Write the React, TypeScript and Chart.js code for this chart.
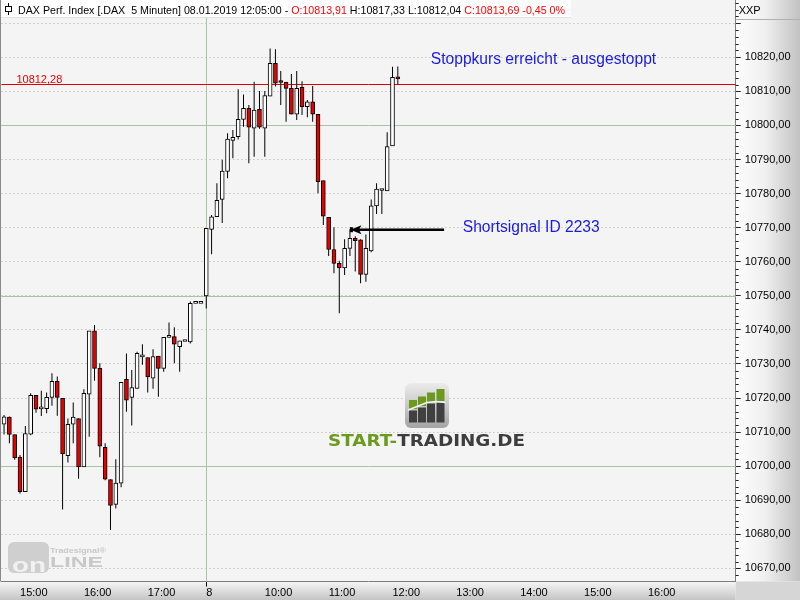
import { useEffect, useRef } from 'react';
import { Chart, registerables } from 'chart.js';

Chart.register(...registerables);

const SANS = "'Liberation Sans', Arial, sans-serif";

// Trading sessions shown: date, time stamp of the first 5-minute bar, number of bar slots
const sessionDates = ['07.01.2019', '08.01.2019'];
const sessionFirstBar = ['14:45', '09:05'];
const sessionBarCount = [38, 100];

// OHLC of the 5-minute bars (DAX Perf. Index)
const opens = [
  10712.3, 10714.4, 10709.3, 10702.7, 10692.5, 10709.4, 10720.8, 10716.8, 10716.9, 10720.2,
  10724.9, 10719.9, 10703.1, 10712.3, 10714.0, 10699.8, 10721.1, 10739.7, 10728.7, 10705.5,
  10696.1, 10688.8, 10695.0, 10725.5, 10720.2, 10722.8, 10732.1, 10731.9, 10725.8, 10732.3,
  10728.7, 10737.8, 10738.0, 10735.1, 10736.6, 10736.5, 10747.8, 10747.8, 10750.0, 10769.5,
  10773.2, 10778.3, 10786.5, 10795.6, 10796.7, 10801.8, 10805.0, 10799.2, 10804.7, 10799.2,
  10808.6, 10818.2, 10812.7, 10812.7, 10810.9, 10803.3, 10811.2, 10805.5, 10806.9, 10803.3,
  10783.8, 10773.0, 10763.6, 10759.5, 10758.2, 10763.9, 10766.9, 10766.4, 10756.3, 10763.2,
  10776.4, 10780.9, 10780.8, 10794.0, 10813.91,
];
const highs = [
  10715.0, 10714.6, 10709.3, 10703.3, 10711.8, 10721.4, 10720.8, 10722.1, 10721.6, 10727.3,
  10726.3, 10720.0, 10714.0, 10718.7, 10714.0, 10722.6, 10739.7, 10741.4, 10730.2, 10706.7,
  10696.1, 10702.0, 10724.6, 10733.1, 10728.2, 10733.6, 10735.8, 10731.9, 10734.3, 10732.3,
  10737.8, 10742.2, 10740.8, 10736.8, 10736.6, 10748.3, 10747.8, 10747.8, 10769.8, 10773.7,
  10783.0, 10789.9, 10797.7, 10798.7, 10810.6, 10809.1, 10806.0, 10812.8, 10810.1, 10810.1,
  10822.6, 10822.4, 10816.0, 10812.7, 10815.1, 10816.0, 10813.0, 10807.5, 10811.6, 10803.3,
  10783.8, 10773.0, 10770.1, 10760.3, 10766.6, 10769.5, 10767.5, 10766.6, 10768.0, 10778.3,
  10783.0, 10781.3, 10798.0, 10817.2, 10817.33,
];
const lows = [
  10709.3, 10706.7, 10701.9, 10692.0, 10692.5, 10709.1, 10715.7, 10714.7, 10715.5, 10717.7,
  10714.8, 10687.3, 10701.1, 10706.7, 10696.3, 10699.8, 10708.6, 10725.1, 10702.6, 10695.9,
  10681.3, 10687.6, 10693.8, 10716.0, 10711.9, 10722.8, 10729.8, 10721.6, 10722.7, 10720.4,
  10727.7, 10737.8, 10730.2, 10727.7, 10736.6, 10736.0, 10747.8, 10747.8, 10746.3, 10762.2,
  10773.2, 10771.4, 10784.5, 10790.4, 10795.9, 10799.6, 10788.9, 10790.8, 10799.0, 10790.8,
  10808.6, 10811.4, 10806.0, 10801.1, 10803.3, 10801.6, 10803.1, 10802.4, 10801.1, 10780.1,
  10770.8, 10761.7, 10756.6, 10744.9, 10756.1, 10761.7, 10757.1, 10753.7, 10754.1, 10762.8,
  10774.0, 10774.0, 10780.8, 10794.0, 10812.04,
];
const closes = [
  10714.5, 10709.3, 10702.4, 10692.5, 10709.6, 10720.8, 10716.7, 10717.1, 10720.2, 10724.9,
  10720.2, 10703.6, 10712.3, 10714.4, 10699.8, 10721.4, 10739.7, 10728.7, 10705.9, 10696.2,
  10688.5, 10695.0, 10724.6, 10719.4, 10723.1, 10733.1, 10732.1, 10726.2, 10732.2, 10728.7,
  10737.8, 10737.8, 10735.8, 10736.8, 10736.6, 10747.8, 10747.8, 10747.8, 10769.8, 10773.2,
  10778.0, 10786.6, 10796.0, 10796.5, 10801.8, 10805.0, 10799.5, 10804.5, 10799.5, 10808.8,
  10818.2, 10812.4, 10812.6, 10810.9, 10803.3, 10810.9, 10805.5, 10806.9, 10803.3, 10783.5,
  10773.4, 10763.6, 10759.5, 10758.2, 10763.9, 10766.9, 10766.2, 10756.3, 10763.9, 10776.4,
  10781.3, 10780.9, 10793.8, 10814.14, 10813.69,
];

// Price levels and annotations
const roundLevels = [10800, 10750, 10700];
const stopLevel = 10812.28;
const stopText = 'Stoppkurs erreicht - ausgestoppt';
const signalText = 'Shortsignal ID 2233';
const signalSlot = 65;
const signalPrice = 10769.4;
const yMin = 10666.15;
const yMax = 10836.82;
const yLabelTop = 10825;

const fmt = (v: number) => v.toFixed(2).replace('.', ',');

// Slot labels (5-minute time stamps) built from the session table
const slotDates: string[] = [];
const slotTimes: string[] = [];
sessionDates.forEach((d, s) => {
  const [h, m] = sessionFirstBar[s].split(':').map(Number);
  for (let k = 0; k < sessionBarCount[s]; k++) {
    const t = h * 60 + m + 5 * k;
    slotDates.push(d);
    slotTimes.push(`${String(Math.floor(t / 60)).padStart(2, '0')}:${String(t % 60).padStart(2, '0')}`);
  }
});
const dayStart = slotDates.findIndex((d, i) => i > 0 && d !== slotDates[i - 1]);
// hour labels; the first bar of a new day shows the day number; labels that would run into the price axis are left out
const tickText = slotTimes.map((t, i) =>
  i === dayStart
    ? String(parseInt(slotDates[i], 10))
    : t.endsWith(':00') && i > 0 && i < slotTimes.length - 6
    ? t
    : null
);

const bodyData = opens.map((o, i) => [Math.min(o, closes[i]), Math.max(o, closes[i])]);
const wickData = highs.map((h, i) => [lows[i], h]);
const bodyColors = opens.map((o, i) => (closes[i] < o ? '#e60000' : '#ffffff'));

function fitText(ctx: CanvasRenderingContext2D, text: string, x: number, y: number, width: number) {
  const w = ctx.measureText(text).width;
  ctx.save();
  ctx.translate(x, y);
  ctx.scale(width / w, 1);
  ctx.fillText(text, 0, 0);
  ctx.restore();
}

function drawStartTradingMark(ctx: CanvasRenderingContext2D) {
  ctx.save();
  // icon
  const g = ctx.createLinearGradient(0, 383, 0, 428);
  g.addColorStop(0, '#ececec');
  g.addColorStop(1, '#a4a4a4');
  ctx.fillStyle = g;
  ctx.beginPath();
  ctx.roundRect(405, 383, 44, 45, 6);
  ctx.fill();
  const bars = [
    [409, 8, 400, 409],
    [418, 8, 396.5, 406],
    [427, 8, 392.5, 402],
    [436.5, 8, 389, 401],
  ];
  bars.forEach(([x, w, top, cut]) => {
    ctx.fillStyle = '#6b9a1e';
    ctx.fillRect(x, top, w, cut - top);
    ctx.fillStyle = '#404040';
    ctx.fillRect(x, cut + 1.5, w, 422.5 - cut - 1.5);
  });
  ctx.strokeStyle = '#f4f4f4';
  ctx.lineWidth = 1.5;
  ctx.beginPath();
  ctx.moveTo(408, 410);
  ctx.lineTo(417, 406.5);
  ctx.lineTo(427, 402.5);
  ctx.lineTo(436, 401.5);
  ctx.lineTo(445.5, 402.5);
  ctx.stroke();
  // word mark
  ctx.font = `bold 15px 'DejaVu Sans', sans-serif`;
  ctx.textBaseline = 'alphabetic';
  const a = 'START-';
  const b = 'TRADING.DE';
  const wa = ctx.measureText(a).width;
  const wb = ctx.measureText(b).width;
  const k = 197 / (wa + wb);
  ctx.translate(328, 445.5);
  ctx.scale(k, 1);
  ctx.fillStyle = '#6b9a1e';
  ctx.fillText(a, 0, 0);
  ctx.fillStyle = '#3d3d3d';
  ctx.fillText(b, wa, 0);
  ctx.restore();
}

function drawOnlineMark(ctx: CanvasRenderingContext2D) {
  ctx.save();
  ctx.fillStyle = '#cfcfcf';
  ctx.beginPath();
  ctx.roundRect(8, 542, 41, 31, 6);
  ctx.fill();
  ctx.fillStyle = '#f1f1f1';
  ctx.font = `bold 20px ${SANS}`;
  fitText(ctx, 'on', 12, 572, 34);
  ctx.fillStyle = '#c8c8c8';
  ctx.font = `bold 15px ${SANS}`;
  fitText(ctx, 'LINE', 50, 567, 53);
  ctx.font = `bold 8px ${SANS}`;
  fitText(ctx, 'Tradesignal®', 50, 552.5, 56);
  ctx.restore();
}

const overlay = {
  id: 'overlay',
  beforeDraw(chart: any) {
    const { ctx, chartArea: a, width, height } = chart;
    ctx.save();
    ctx.fillStyle = '#f4f4f4';
    ctx.fillRect(0, 0, a.right, a.bottom);
    const gr = ctx.createLinearGradient(a.right, 0, width, 0);
    gr.addColorStop(0, '#fdfdfd');
    gr.addColorStop(0.45, '#f0f0f0');
    gr.addColorStop(1, '#c2c2c2');
    ctx.fillStyle = gr;
    ctx.fillRect(a.right, 0, width - a.right, a.bottom);
    const gb = ctx.createLinearGradient(0, a.bottom, 0, height);
    gb.addColorStop(0, '#f6f6f6');
    gb.addColorStop(1, '#c4c4c4');
    ctx.fillStyle = gb;
    ctx.fillRect(0, a.bottom, a.right, height - a.bottom);
    ctx.fillStyle = '#d6d6d6';
    ctx.fillRect(a.right, a.bottom, width - a.right, height - a.bottom);
    ctx.restore();
  },
  beforeDatasetsDraw(chart: any) {
    const { ctx, chartArea: a, scales } = chart;
    const xs = scales.x;
    const ys = scales.y;
    ctx.save();
    drawStartTradingMark(ctx);
    drawOnlineMark(ctx);
    // round-number levels and day separator
    ctx.strokeStyle = '#a9c3a9';
    ctx.lineWidth = 1;
    roundLevels.forEach((v) => {
      const y = Math.round(ys.getPixelForValue(v)) + 0.5;
      ctx.beginPath();
      ctx.moveTo(a.left, y);
      ctx.lineTo(a.right, y);
      ctx.stroke();
    });
    const xd = Math.round(xs.getPixelForValue(dayStart)) + 0.5;
    ctx.beginPath();
    ctx.moveTo(xd, a.top);
    ctx.lineTo(xd, a.bottom);
    ctx.stroke();
    // stop level
    const ys0 = Math.round(ys.getPixelForValue(stopLevel)) + 0.5;
    ctx.strokeStyle = '#e00000';
    ctx.beginPath();
    ctx.moveTo(a.left, ys0);
    ctx.lineTo(a.right, ys0);
    ctx.stroke();
    ctx.fillStyle = '#f00000';
    ctx.font = `11px ${SANS}`;
    ctx.textBaseline = 'alphabetic';
    ctx.fillText(fmt(stopLevel), a.left + 15, ys0 - 2);
    ctx.restore();
  },
  afterDatasetsDraw(chart: any) {
    const { ctx, chartArea: a, scales, width } = chart;
    const xs = scales.x;
    const ys = scales.y;
    ctx.save();
    // left frame line
    ctx.fillStyle = '#8a8a8a';
    ctx.fillRect(0, 0, 1, a.bottom);
    // minor ticks on the price axis
    ctx.strokeStyle = '#222';
    ctx.lineWidth = 1;
    for (let v = Math.ceil(yMin / 2) * 2; v <= yMax; v += 2) {
      if (v % 10 === 0) continue;
      const y = Math.round(ys.getPixelForValue(v)) + 0.5;
      ctx.beginPath();
      ctx.moveTo(a.right, y);
      ctx.lineTo(a.right + 3, y);
      ctx.stroke();
    }
    // annotations
    ctx.fillStyle = '#1a1ae6';
    ctx.font = `15.6px ${SANS}`;
    ctx.textBaseline = 'middle';
    ctx.fillText(stopText, xs.getPixelForValue(80.2), ys.getPixelForValue(10819.2));
    ctx.fillText(signalText, xs.getPixelForValue(86.2), ys.getPixelForValue(10770.1));
    // signal arrow
    const tipX = xs.getPixelForValue(signalSlot) + 0.5;
    const ay = ys.getPixelForValue(signalPrice);
    const tailX = xs.getPixelForValue(82.7);
    ctx.strokeStyle = '#000';
    ctx.fillStyle = '#000';
    ctx.lineWidth = 2.5;
    ctx.beginPath();
    ctx.moveTo(tipX + 8, ay);
    ctx.lineTo(tailX, ay);
    ctx.stroke();
    ctx.beginPath();
    ctx.moveTo(tipX, ay);
    ctx.lineTo(tipX + 11, ay - 4.5);
    ctx.lineTo(tipX + 8.5, ay);
    ctx.lineTo(tipX + 11, ay + 4.5);
    ctx.closePath();
    ctx.fill();
    ctx.fillRect(tipX - 0.5, ay - 2.5, 3, 5);
    // header line
    const last = opens.length - 1;
    const change = closes[last] - closes[last - 1];
    const pct = Math.round((change / closes[last - 1]) * 100);
    const parts: [string, string][] = [
      [`DAX Perf. Index [.DAX  5 Minuten] ${slotDates[last]} ${slotTimes[last]}:00 - `, '#000'],
      [`O:${fmt(opens[last])}`, '#f00'],
      [` H:${fmt(highs[last])} L:${fmt(lows[last])} `, '#000'],
      [`C:${fmt(closes[last])} ${fmt(change)} ${pct}%`, '#f00'],
    ];
    ctx.font = `11px ${SANS}`;
    ctx.textBaseline = 'alphabetic';
    const total = parts.reduce((s, p) => s + ctx.measureText(p[0]).width, 0);
    const headerWidth = 547;
    const k = headerWidth / total;
    ctx.fillStyle = '#ffffff';
    ctx.fillRect(1, 0, 18 + headerWidth + 5, 17);
    ctx.fillStyle = '#e2e2e2';
    ctx.fillRect(1, 17, 18 + headerWidth + 5, 1);
    ctx.save();
    ctx.translate(18, 13.5);
    ctx.scale(k, 1);
    let x = 0;
    parts.forEach(([t, c]) => {
      ctx.fillStyle = c;
      ctx.fillText(t, x, 0);
      x += ctx.measureText(t).width;
    });
    ctx.restore();
    // header icon
    ctx.strokeStyle = '#000';
    ctx.lineWidth = 1;
    ctx.beginPath();
    ctx.moveTo(8.5, 3);
    ctx.lineTo(8.5, 15);
    ctx.stroke();
    ctx.fillStyle = '#fff';
    ctx.fillRect(5.5, 6.5, 6, 5);
    ctx.strokeRect(5.5, 6.5, 6, 5);
    // axis caption
    ctx.fillStyle = '#000';
    ctx.fillText('XXP', a.right + 3, 13.5);
    ctx.fillStyle = '#b0b0b0';
    ctx.fillRect(a.right, 19, width - a.right, 1);
    ctx.restore();
  },
};

export default function App() {
  const ref = useRef<HTMLCanvasElement>(null);
  useEffect(() => {
    document.body.style.margin = '0';
    const canvas = ref.current as HTMLCanvasElement;
    const gridColor = '#a9b2a9';
    const chart = new Chart(canvas, {
      type: 'bar',
      data: {
        labels: slotTimes,
        datasets: [
          {
            label: 'Körper',
            data: bodyData as any,
            backgroundColor: bodyColors,
            borderColor: '#000',
            borderWidth: 1,
            borderSkipped: false,
            barThickness: 4,
            minBarLength: 2,
            grouped: false,
            order: 0,
          } as any,
          {
            label: 'Docht',
            data: wickData as any,
            backgroundColor: '#000',
            borderWidth: 0,
            barThickness: 1,
            inflateAmount: 0,
            grouped: false,
            order: 1,
          } as any,
        ],
      },
      options: {
        animation: false,
        responsive: false,
        maintainAspectRatio: false,
        layout: { padding: { left: 1.4, top: 0, right: 0, bottom: 0 } },
        plugins: { legend: { display: false }, tooltip: { enabled: false } },
        scales: {
          x: {
            type: 'category',
            offset: true,
            grid: {
              offset: false,
              lineWidth: 1,
              color: (c: any) => (tickText[c.index] ? gridColor : 'rgba(0,0,0,0)'),
              tickColor: (c: any) => (tickText[c.index] ? '#000' : 'rgba(0,0,0,0)'),
              tickLength: 5,
            },
            border: { display: true, color: '#7c7c7c', width: 1, dash: [1, 3] },
            ticks: {
              autoSkip: false,
              maxRotation: 0,
              minRotation: 0,
              align: 'start',
              padding: 0,
              color: '#000',
              font: { family: SANS, size: 11 },
              callback: (_v: any, i: number) => tickText[i],
            },
            afterFit: (s: any) => {
              s.height = 18.5;
              s.paddingLeft = 0;
              s.paddingRight = 0;
            },
          } as any,
          y: {
            type: 'linear',
            position: 'right',
            min: yMin,
            max: yMax,
            beginAtZero: false,
            grid: { color: gridColor, lineWidth: 1, tickLength: 5, tickColor: '#222' },
            border: { display: true, color: '#7c7c7c', width: 1, dash: [1, 3] },
            ticks: {
              stepSize: 10,
              includeBounds: false,
              padding: 4,
              color: '#000',
              font: { family: SANS, size: 11 },
              callback: (v: any) => (Number(v) > yLabelTop ? '' : fmt(Number(v))),
            },
            afterFit: (s: any) => {
              s.width = 64.3;
              s.paddingTop = 0;
              s.paddingBottom = 0;
            },
          } as any,
        },
      },
      plugins: [overlay],
    });
    return () => chart.destroy();
  }, []);
  return (
    <div style={{ position: 'absolute', left: 0, top: 0, width: 800, height: 600 }}>
      <canvas ref={ref} width={800} height={600} style={{ display: 'block', width: 800, height: 600 }} />
    </div>
  );
}
